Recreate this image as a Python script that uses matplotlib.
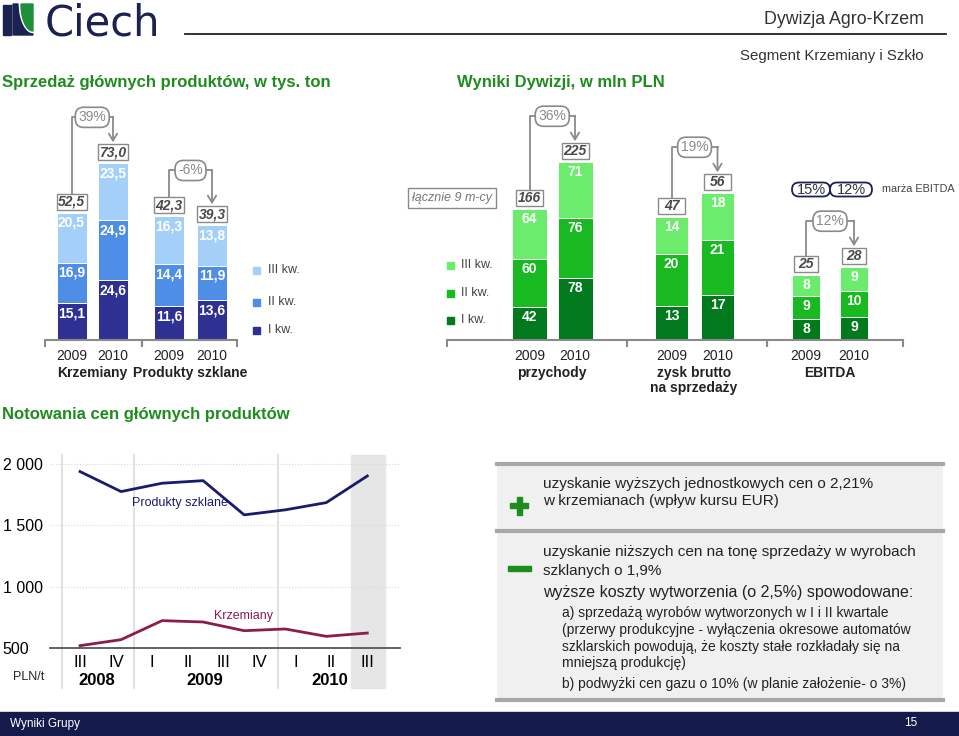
import numpy as np
import matplotlib
matplotlib.use('Agg')
import matplotlib.pyplot as plt
from matplotlib.patches import Rectangle, Polygon, FancyBboxPatch

plt.rcParams['font.family'] = ['Liberation Sans', 'DejaVu Sans']

# --- data -------------------------------------------------------------
kw_labels = ['I kw.', 'II kw.', 'III kw.']
years = ['2009', '2010']

# sprzedaz, tys. ton (I, II, III kw.)
krzemiany_2009 = [15.1, 16.9, 20.5]
krzemiany_2010 = [24.6, 24.9, 23.5]
szklane_2009 = [11.6, 14.4, 16.3]
szklane_2010 = [13.6, 11.9, 13.8]

# wyniki dywizji, mln PLN (I, II, III kw.)
przychody_2009 = [42, 60, 64]
przychody_2010 = [78, 76, 71]
zysk_2009 = [13, 20, 14]
zysk_2010 = [17, 21, 18]
ebitda_2009 = [8, 9, 8]
ebitda_2010 = [9, 10, 9]

change_krzemiany = '39%'
change_szklane = '-6%'
change_przychody = '36%'
change_zysk = '19%'
change_ebitda = '12%'
ebitda_margin = ['15%', '12%']

# notowania cen, PLN/t
quarters = ['III', 'IV', 'I', 'II', 'III', 'IV', 'I', 'II', 'III']
quarter_years = ['2008', '2009', '2010']
price_szklane = [1938, 1775, 1843, 1864, 1585, 1626, 1685, 1902]
price_krzemiany = [519, 568, 723, 712, 641, 655, 595, 622]

# --- styles -----------------------------------------------------------
W, H = 959, 736
BLUES = ['#2e3192', '#4f8ee6', '#a3cff8']
GREENS = ['#007a1c', '#19b921', '#6cec6c']
GREEN_TXT = '#1e8c1e'
GRAY = '#8a8a8a'
NAVY = '#1b2150'

fig = plt.figure(figsize=(W / 100, H / 100), dpi=100)


def px_axes(x0, y0, x1, y1):
    return fig.add_axes([x0 / W, 1 - y1 / H, (x1 - x0) / W, (y1 - y0) / H])


ax0 = px_axes(0, 0, W, H)
ax0.set_xlim(0, W)
ax0.set_ylim(H, 0)
ax0.axis('off')

# header
ax0.add_patch(Polygon([(3, 5), (11, 5), (11, 35), (3, 35)], color=NAVY))
th = np.linspace(0, np.pi / 2, 30)
curve = np.column_stack([18 + 15 * (1 - np.cos(th)), 4 + 30 * np.sin(th)])
ax0.add_patch(Polygon(np.vstack([[(13, 4)], curve, [(33, 35), (13, 35)]]), color=NAVY))
curve2 = np.column_stack([21 + 12 * (1 - np.cos(th)), 4 + 27 * np.sin(th)])
ax0.add_patch(Polygon(np.vstack([curve2, [(33, 4)]]), color='#1f8f3a'))
ax0.text(45, 35, 'Ciech', fontsize=30, color=NAVY, family='DejaVu Sans', va='baseline')
ax0.plot([185, 946], [34, 34], color='#222222', lw=1.3)
ax0.text(924, 20, 'Dywizja Agro-Krzem', fontsize=12.8, color='#333333', ha='right', va='center')
ax0.text(924, 56, 'Segment Krzemiany i Szkło', fontsize=10.8, color='#333333', ha='right', va='center')
ax0.text(2, 83, 'Sprzedaż głównych produktów, w tys. ton', fontsize=12, fontweight='bold',
         color=GREEN_TXT, va='center')
ax0.text(457, 83, 'Wyniki Dywizji, w mln PLN', fontsize=12, fontweight='bold',
         color=GREEN_TXT, va='center')
ax0.text(2, 415, 'Notowania cen głównych produktów', fontsize=12, fontweight='bold',
         color=GREEN_TXT, va='center')


def bar_axes(x0, x1, k):
    ax = px_axes(x0, 90, x1, 340)
    ax.set_xlim(x0, x1)
    ax.set_ylim(0, 250 / k)
    ax.patch.set_alpha(0)
    for s in ['top', 'right', 'left']:
        ax.spines[s].set_visible(False)
    ax.spines['bottom'].set_color(GRAY)
    ax.spines['bottom'].set_linewidth(1.5)
    ax.set_yticks([])
    ax.set_xticks([x0, x1])
    ax.set_xticklabels([])
    ax.tick_params(axis='x', direction='out', length=5, width=1.5, color=GRAY)
    return ax


def draw_stack(ax, k, centers, width, box_w, groups, colors, fmt):
    tops = []
    for x, vals in zip(centers, groups):
        bottom = 0
        for v, c in zip(vals, colors):
            ax.bar(x, v, width, bottom=bottom, color=c, edgecolor='white', linewidth=0.7)
            ax.annotate(fmt(v), (x, bottom + v), xytext=(0, -7.2), textcoords='offset points',
                        ha='center', va='center', fontsize=10, fontweight='bold', color='white')
            bottom += v
        # total in a white box just above the bar
        ax.add_patch(Rectangle((x - box_w / 2, bottom + 3 / k), box_w, 16 / k, fc='white',
                               ec=GRAY, lw=1, clip_on=False))
        ax.text(x, bottom + 11 / k, fmt(bottom), ha='center', va='center', fontsize=10,
                fontweight='bold', fontstyle='italic', color='#4a4a4a')
        tops.append(bottom)
    return tops


def bracket(ax, k, x0, x1, t0, t1, label):
    ys = t0 + 19 / k
    yl = max(t0, t1) + 46 / k
    ye = t1 + 21 / k
    ax.plot([x0, x0, x1], [ys, yl, yl], color=GRAY, lw=1.3, clip_on=False)
    ax.annotate('', xy=(x1, ye), xytext=(x1, yl + 0.5 / k),
                arrowprops=dict(arrowstyle='->,head_length=0.5,head_width=0.3', color=GRAY,
                                lw=1.3, shrinkA=0, shrinkB=0), annotation_clip=False)
    ax.text((x0 + x1) / 2, yl, label, ha='center', va='center', fontsize=10, color=GRAY,
            bbox=dict(boxstyle='round,pad=0.22,rounding_size=0.6', fc='white', ec=GRAY, lw=1.2))


fmt1 = lambda v: f'{v:.1f}'.replace('.', ',')
fmt0 = lambda v: f'{v:.0f}'

# sprzedaz - krzemiany / produkty szklane
k = 2.42
ax = bar_axes(45, 142, k)
cx = [71.5, 113]
t = draw_stack(ax, k, cx, 30, 30, [krzemiany_2009, krzemiany_2010], BLUES, fmt1)
bracket(ax, k, cx[0], cx[1], t[0], t[1], change_krzemiany)
k = 2.92
ax = bar_axes(142, 237, k)
cx = [169, 212]
t = draw_stack(ax, k, cx, 30, 30, [szklane_2009, szklane_2010], BLUES, fmt1)
bracket(ax, k, cx[0], cx[1], t[0], t[1], change_szklane)

# wyniki dywizji
k = 0.79
ax = bar_axes(447, 627, k)
cx = [529.5, 575]
t = draw_stack(ax, k, cx, 35, 27, [przychody_2009, przychody_2010], GREENS, fmt0)
bracket(ax, k, cx[0], cx[1], t[0], t[1], change_przychody)
k = 2.62
ax = bar_axes(627, 767, k)
cx = [671.5, 717.5]
t = draw_stack(ax, k, cx, 33, 27, [zysk_2009, zysk_2010], GREENS, fmt0)
bracket(ax, k, cx[0], cx[1], t[0], t[1], change_zysk)
k = 2.6
ax = bar_axes(767, 903, k)
cx = [806, 854]
t = draw_stack(ax, k, cx, 28, 24, [ebitda_2009, ebitda_2010], GREENS, fmt0)
bracket(ax, k, cx[0], cx[1], t[0], t[1], change_ebitda)

# year and group labels
for x, yr in zip([71.5, 113, 169, 212, 529.5, 575, 671.5, 717.5, 806, 854], years * 5):
    ax0.text(x, 356, yr, ha='center', va='center', fontsize=10, color='#222222')
for x, y, s in [(92, 373, 'Krzemiany'), (190, 373, 'Produkty szklane'), (552, 373, 'przychody'),
                (694, 373, 'zysk brutto'), (694, 388, 'na sprzedaży'), (830, 373, 'EBITDA')]:
    ax0.text(x, y, s, ha='center', va='center', fontsize=10, fontweight='bold', color='#222222')

# legends
for y, lab, c in zip([330, 302, 270], kw_labels, BLUES):
    ax0.add_patch(Rectangle((253, y - 3.5), 7, 7, color=c))
    ax0.text(268, y, lab, fontsize=9, color='#444444', va='center')
for y, lab, c in zip([320, 293, 265], kw_labels, GREENS):
    ax0.add_patch(Rectangle((447, y - 3.5), 7, 7, color=c))
    ax0.text(461, y, lab, fontsize=9, color='#444444', va='center')
ax0.text(452, 198, 'łącznie 9 m-cy', fontsize=9, fontstyle='italic', color='#777777', ha='center',
         va='center', bbox=dict(boxstyle='square,pad=0.3', fc='white', ec=GRAY, lw=1))
for x0, w, m in zip([792, 830], [38, 42], ebitda_margin):
    ax0.add_patch(FancyBboxPatch((x0, 182.5), w, 14, boxstyle='round,pad=0,rounding_size=7',
                                 fc='white', ec=NAVY, lw=1.3))
    ax0.text(x0 + w / 2, 189.5, m, fontsize=10.5, color='#333333', ha='center', va='center')
ax0.text(882, 189, 'marża EBITDA', fontsize=7.8, color='#444444', va='center')

# --- notowania cen ------------------------------------------------------
ax = px_axes(50, 455, 400, 648)
ax.patch.set_alpha(0)
ax.set_xlim(-0.836, 8.91)
ax.set_ylim(500, 2073)
for s in ax.spines.values():
    s.set_visible(False)
ax.axvspan(7.55, 8.5, ymin=-0.207, ymax=1, color='#e6e6e6', clip_on=False, zorder=0)
for xv in [-0.5, 1.5, 5.5]:
    ax.axvline(xv, ymin=-0.207, ymax=1, color='#e2e2e2', lw=1.5, clip_on=False, zorder=0)
for yv in [1000, 1500, 2000]:
    ax.axhline(yv, color='#d8d8d8', lw=0.8, ls=':', zorder=0)
ax.axhline(500, color='#555555', lw=1.3, clip_on=False)
xp = np.linspace(0, len(quarters) - 1, len(price_szklane))
ax.plot(xp, price_szklane, color='#1b1b6e', lw=2)
ax.plot(xp, price_krzemiany, color='#8b1c4c', lw=2)
ax.text(2.79, 1682, 'Produkty szklane', fontsize=9, color='#1b1b6e', ha='center', va='center')
ax.text(4.54, 761, 'Krzemiany', fontsize=9, color='#8b1c4c', ha='center', va='center')
ax.set_yticks([500, 1000, 1500, 2000], ['500', '1 000', '1 500', '2 000'])
ax.tick_params(axis='y', length=0, pad=34, labelsize=11.5)
for lbl in ax.get_yticklabels():
    lbl.set_ha('left')
ax.set_xticks(range(len(quarters)), quarters)
ax.tick_params(axis='x', length=0, pad=5, labelsize=12)
for xv, yr in zip([0.47, 3.48, 6.96], quarter_years):
    ax.text(xv, -0.17, yr, transform=ax.get_xaxis_transform(), ha='center', va='center',
            fontsize=12, fontweight='bold')
ax0.text(13, 677, 'PLN/t', fontsize=9, va='center', color='#222222')

# --- komentarz ------------------------------------------------------------
ax0.add_patch(Rectangle((497, 464), 446, 236, fc='#f0f0f0', ec='none', zorder=0))
for y in [464, 531, 700]:
    ax0.plot([497, 943], [y, y], color='#a8a8a8', lw=3)
ax0.add_patch(Rectangle((510, 503), 18, 5, color=GREEN_TXT))
ax0.add_patch(Rectangle((516.5, 496.5), 5, 18, color=GREEN_TXT))
ax0.add_patch(Rectangle((508, 566), 23, 5, color=GREEN_TXT))
txt = [(543, 484, 'uzyskanie wyższych jednostkowych cen o 2,21%', 11),
       (543, 501, 'w krzemianach (wpływ kursu EUR)', 11),
       (543, 552, 'uzyskanie niższych cen na tonę sprzedaży w wyrobach', 11),
       (543, 571, 'szklanych o 1,9%', 11),
       (543, 593, 'wyższe koszty wytworzenia (o 2,5%) spowodowane:', 11.5),
       (562, 613, 'a) sprzedażą wyrobów wytworzonych w I i II kwartale', 10),
       (562, 630, '(przerwy produkcyjne - wyłączenia okresowe automatów', 10),
       (562, 647, 'szklarskich powodują, że koszty stałe rozkładały się na', 10),
       (562, 663, 'mniejszą produkcję)', 10),
       (562, 684, 'b) podwyżki cen gazu o 10% (w planie założenie- o 3%)', 10)]
for x, y, s, fs in txt:
    ax0.text(x, y, s, fontsize=fs, color='#222222', va='center')

# footer
ax0.add_patch(Rectangle((0, 712), W, 23, color='#141b4b'))
ax0.text(10, 723.5, 'Wyniki Grupy', fontsize=8.5, color='white', va='center')
ax0.text(917, 723.5, '15', fontsize=8.5, color='white', va='center', ha='right')

fig.savefig('out.png', dpi=100)
